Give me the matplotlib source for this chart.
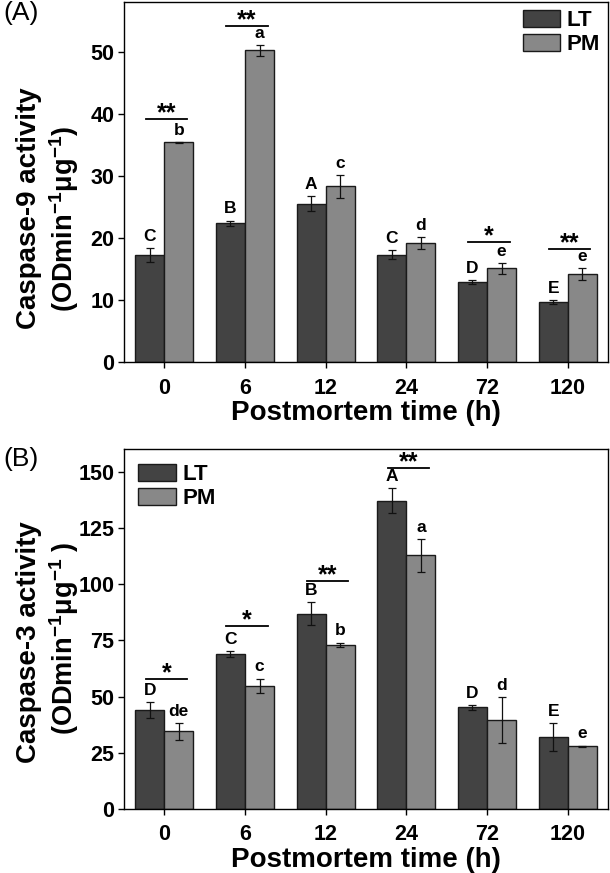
import matplotlib
matplotlib.use('Agg')
import matplotlib.pyplot as plt
import numpy as np
from matplotlib.patches import Patch

plt.rcParams['font.family'] = ['Liberation Sans', 'DejaVu Sans']
plt.rcParams['mathtext.fontset'] = 'custom'
plt.rcParams['mathtext.bf'] = 'Liberation Sans:bold'
plt.rcParams['mathtext.rm'] = 'Liberation Sans:bold'
plt.rcParams['mathtext.default'] = 'bf'

times = ['0', '6', '12', '24', '72', '120']
series = ['LT', 'PM']

# Panel A: Caspase-9
lt9 = [17.3, 22.4, 25.5, 17.3, 12.9, 9.7]
lt9_err = [1.1, 0.4, 1.2, 0.7, 0.35, 0.35]
pm9 = [35.4, 50.2, 28.3, 19.15, 15.1, 14.2]
pm9_err = [0.1, 0.9, 1.8, 0.95, 0.9, 0.9]
lt9_letters = ['C', 'B', 'A', 'C', 'D', 'E']
pm9_letters = ['b', 'a', 'c', 'd', 'e', 'e']
sig9 = ['**', '**', '', '', '*', '**']
sig9_y = [39.2, 54.2, None, None, 19.4, 18.3]

# Panel B: Caspase-3
lt3 = [44.0, 68.8, 86.9, 137.2, 45.2, 31.9]
lt3_err = [3.4, 1.4, 5.0, 5.4, 1.0, 6.3]
pm3 = [34.5, 54.7, 73.1, 112.8, 39.4, 27.9]
pm3_err = [3.6, 3.3, 0.9, 7.3, 10.2, 0.3]
lt3_letters = ['D', 'C', 'B', 'A', 'D', 'E']
pm3_letters = ['de', 'c', 'b', 'a', 'd', 'e']
sig3 = ['*', '*', '**', '**', '', '']
sig3_y = [57.8, 81.5, 101.5, 151.8, None, None]

C_LT = '#434343'
C_PM = '#888888'
EDGE = '#1a1a1a'
W, H = 610, 873
fig = plt.figure(figsize=(W / 100, H / 100), dpi=100)


def make_axes(top_px, bottom_px):
    l, r = 124 / W, 608 / W
    return fig.add_axes([l, 1 - bottom_px / H, r - l, (bottom_px - top_px) / H])


def draw(ax, lt, lte, pm, pme, ltl, pml, sig, sigy, ylim, yticks, legloc, legpad):
    x = np.arange(len(times))
    w = 0.36
    ax.bar(x - w / 2, lt, w, color=C_LT, edgecolor=EDGE, linewidth=1.0, label=series[0], zorder=2)
    ax.bar(x + w / 2, pm, w, color=C_PM, edgecolor=EDGE, linewidth=1.0, label=series[1], zorder=2)
    ax.errorbar(x - w / 2, lt, yerr=lte, fmt='none', ecolor='#111111', elinewidth=0.9, capsize=3, capthick=0.9, zorder=3)
    ax.errorbar(x + w / 2, pm, yerr=pme, fmt='none', ecolor='#111111', elinewidth=0.9, capsize=3, capthick=0.9, zorder=3)
    for i in range(len(times)):
        ax.annotate(ltl[i], (x[i] - w / 2, lt[i] + lte[i]), xytext=(0, 3), textcoords='offset points',
                    ha='center', va='bottom', fontsize=12.5, fontweight='bold')
        ax.annotate(pml[i], (x[i] + w / 2, pm[i] + pme[i]), xytext=(0, 3), textcoords='offset points',
                    ha='center', va='bottom', fontsize=12.5, fontweight='bold')
        if sig[i]:
            ax.plot([x[i] - 0.23, x[i] + 0.28], [sigy[i], sigy[i]], color='black', lw=1.3, zorder=3)
            ax.annotate(sig[i], (x[i] + 0.025, sigy[i]), xytext=(0, -1), textcoords='offset points',
                        ha='center', va='baseline', fontsize=18, fontweight='bold')
    ax.set_xlim(-0.5, len(times) - 0.5)
    ax.set_ylim(*ylim)
    ax.set_xticks(x)
    ax.set_xticklabels(times)
    ax.set_yticks(yticks)
    ax.tick_params(axis='both', direction='out', length=4, width=1, labelsize=15.5, pad=3)
    ax.tick_params(axis='x', pad=7)
    for lab in ax.get_xticklabels() + ax.get_yticklabels():
        lab.set_fontweight('bold')
    for s in ax.spines.values():
        s.set_linewidth(1.0)
    ax.set_xlabel('Postmortem time (h)', fontsize=20, fontweight='bold', labelpad=1)
    handles = [Patch(facecolor=C_LT, edgecolor=EDGE, linewidth=1.0),
               Patch(facecolor=C_PM, edgecolor=EDGE, linewidth=1.0)]
    ax.legend(handles, series, loc=legloc, frameon=False, handlelength=1.67,
              handleheight=0.82, handletextpad=0.3, labelspacing=0.12, borderaxespad=legpad,
              borderpad=0.35, prop={'weight': 'bold', 'size': 16})
    return ax


axA = make_axes(2, 362.3)
draw(axA, lt9, lt9_err, pm9, pm9_err, lt9_letters, pm9_letters, sig9, sig9_y,
     (0, 58), [0, 10, 20, 30, 40, 50], 'upper right', 0.0)
axB = make_axes(449.3, 809)
draw(axB, lt3, lt3_err, pm3, pm3_err, lt3_letters, pm3_letters, sig3, sig3_y,
     (0, 160), [0, 25, 50, 75, 100, 125, 150], 'upper left', 0.3)

# y labels
fig.text(29 / W, 1 - 208 / H, 'Caspase-9 activity', rotation=90, ha='center', va='center',
         fontsize=20, fontweight='bold')
fig.text(64 / W, 1 - 219 / H, '(ODmin$^{-1}$\u03bcg$^{-1}$)', rotation=90, ha='center', va='center',
         fontsize=19.5, fontweight='bold')
fig.text(29 / W, 1 - 642 / H, 'Caspase-3 activity', rotation=90, ha='center', va='center',
         fontsize=20, fontweight='bold')
fig.text(64 / W, 1 - 638 / H, '(ODmin$^{-1}$\u03bcg$^{-1}$ )', rotation=90, ha='center', va='center',
         fontsize=19.5, fontweight='bold')

fig.text(3 / W, 1 - 1 / H, '(A)', ha='left', va='top', fontsize=19)
fig.text(3 / W, 1 - 447 / H, '(B)', ha='left', va='top', fontsize=19)

fig.savefig('out.png', dpi=100)
